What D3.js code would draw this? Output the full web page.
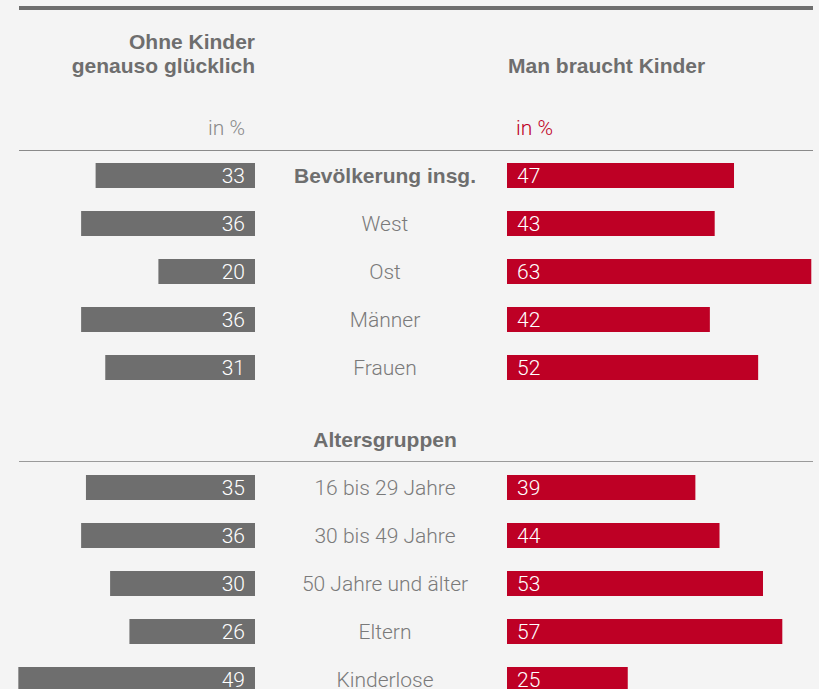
<!DOCTYPE html>
<html lang="de">
	<head>
		<meta charset="utf-8">
		<title>Kinder</title>
		<script src="https://cdn.jsdelivr.net/npm/d3@7"></script>
		<style>
			body { margin: 0; background: #f4f4f4; }
			svg text { font-family: Roboto, "Liberation Sans", sans-serif; }
			svg text.b { font-family: "Liberation Sans", Arial, sans-serif; font-weight: bold; }
		</style>
	</head>
	<body>
		<script>
			// values
			var groupA = ["Bevölkerung insg.", "West", "Ost", "Männer", "Frauen"]
			var leftA = [33, 36, 20, 36, 31]
			var rightA = [47, 43, 63, 42, 52]

			var groupB = ["16 bis 29 Jahre", "30 bis 49 Jahre", "50 Jahre und älter", "Eltern", "Kinderlose"]
			var leftB = [35, 36, 30, 26, 49]
			var rightB = [39, 44, 53, 57, 25]

			var leftTitle = ["Ohne Kinder", "genauso glücklich"]
			var rightTitle = "Man braucht Kinder"
			var groupBTitle = "Altersgruppen"

			var w = 819, h = 689
			var grey = "#6e6e6e", red = "#be0025"
			var leftEnd = 255, rightStart = 507, mid = 385
			var barH = 25

			var rows = []
			groupA.forEach(function(d, i) {
				rows.push({ label: d, left: leftA[i], right: rightA[i], pos: i, bold: i == 0 })
			})
			groupB.forEach(function(d, i) {
				rows.push({ label: d, left: leftB[i], right: rightB[i], pos: i + 6.5, bold: false })
			})

			var svg = d3.select("body").append("svg").attr("width", w).attr("height", h)

			var x = d3.scaleLinear().domain([0, 100]).range([0, 483])
			var y = d3.scaleLinear().domain([0, 1]).range([175.5, 223.5])

			// rules
			svg.append("line").attr("x1", 19).attr("x2", 813).attr("y1", 8).attr("y2", 8)
				.attr("stroke", grey).attr("stroke-width", 4)
			svg.append("line").attr("x1", 19).attr("x2", 813).attr("y1", 150.5).attr("y2", 150.5)
				.attr("stroke", "#8a8a8a").attr("stroke-width", 1.2)
			svg.append("line").attr("x1", 19).attr("x2", 813).attr("y1", 461.5).attr("y2", 461.5)
				.attr("stroke", "#9a9a9a").attr("stroke-width", 1.2)

			// headings
			svg.append("text").attr("class", "b").attr("x", leftEnd).attr("y", 49).attr("text-anchor", "end")
				.attr("font-size", "21px").attr("fill", grey)
				.selectAll("tspan").data(leftTitle).enter().append("tspan")
				.attr("x", leftEnd).attr("dy", function(d, i) { return i ? 24 : 0 })
				.text(function(d) { return d })
			svg.append("text").attr("class", "b").attr("x", rightStart + 1).attr("y", 73)
				.attr("font-size", "21px").attr("fill", grey)
				.text(rightTitle)
			svg.append("text").attr("x", 245).attr("y", 135).attr("text-anchor", "end")
				.attr("font-size", "21px").attr("font-weight", 300).attr("fill", "#8a8a8a")
				.text("in %")
			svg.append("text").attr("x", 516).attr("y", 135)
				.attr("font-size", "21px").attr("font-weight", 300).attr("fill", red)
				.text("in %")
			svg.append("text").attr("class", "b").attr("x", mid).attr("y", y(5.5)).attr("dy", "0.35em")
				.attr("text-anchor", "middle").attr("font-size", "21px")
				.attr("fill", grey).text(groupBTitle)

			var row = svg.selectAll(".row").data(rows).enter().append("g")
				.attr("class", "row")
				.attr("transform", function(d) { return "translate(0," + y(d.pos) + ")" })

			row.append("rect")
				.attr("x", function(d) { return leftEnd - x(d.left) })
				.attr("y", -barH / 2)
				.attr("width", function(d) { return x(d.left) })
				.attr("height", barH)
				.attr("fill", grey)
			row.append("rect")
				.attr("x", rightStart)
				.attr("y", -barH / 2)
				.attr("width", function(d) { return x(d.right) })
				.attr("height", barH)
				.attr("fill", red)

			row.append("text")
				.attr("x", leftEnd - 10).attr("dy", "0.36em").attr("text-anchor", "end")
				.attr("font-size", "21px").attr("font-weight", 300).attr("fill", "#fff")
				.text(function(d) { return d.left })
			row.append("text")
				.attr("x", rightStart + 10).attr("dy", "0.36em")
				.attr("font-size", "21px").attr("font-weight", 300).attr("fill", "#fff")
				.text(function(d) { return d.right })
			row.append("text")
				.attr("class", function(d) { return d.bold ? "b" : null })
				.attr("x", mid).attr("dy", "0.36em").attr("text-anchor", "middle")
				.attr("font-size", "21px")
				.attr("font-weight", function(d) { return d.bold ? "bold" : 300 })
				.attr("fill", function(d) { return d.bold ? grey : "#7a7a7a" })
				.text(function(d) { return d.label })
		</script>
	</body>
</html>
